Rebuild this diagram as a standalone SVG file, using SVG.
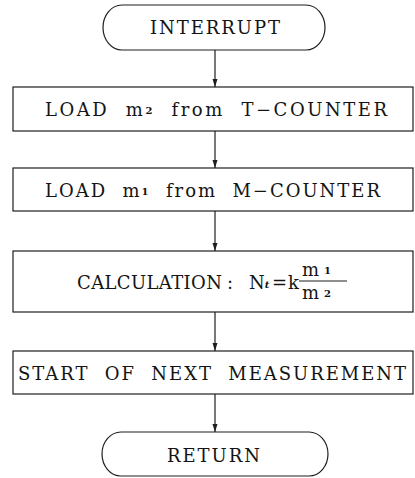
<svg xmlns="http://www.w3.org/2000/svg" width="415" height="478" viewBox="0 0 415 478">
  <style>
    .shape { fill: #ffffff; stroke: #1e1e1e; stroke-width: 1.2; }
    .label { font-family: "DejaVu Serif", "Liberation Serif", serif; font-size: 18px; fill: #141414; }
    .sub { font-size: 10px; font-weight: bold; }
    .wire { fill: none; stroke: #1e1e1e; stroke-width: 1.2; marker-end: url(#head); }
  </style>
  <defs>
    <marker id="head" markerUnits="userSpaceOnUse" markerWidth="9" markerHeight="6" refX="8" refY="3" orient="auto">
      <path d="M0,0.5 L8,3 L0,5.5 Z" fill="#1e1e1e"/>
    </marker>
  </defs>

  <rect width="415" height="478" fill="#ffffff"/>

  <!-- connectors along the centre line -->
  <g id="connectors">
    <line class="wire" x1="215" y1="50" x2="215" y2="87"/>
    <line class="wire" x1="215" y1="131" x2="215" y2="168"/>
    <line class="wire" x1="215" y1="211" x2="215" y2="251"/>
    <line class="wire" x1="215" y1="312" x2="215" y2="351"/>
    <line class="wire" x1="215" y1="394" x2="215" y2="432"/>
  </g>

  <g id="interrupt">
    <path class="shape" d="M122,5 H306 A19,22.5 0 0 1 306,50 H122 A19,22.5 0 0 1 122,5 Z"/>
    <text class="label" x="150" y="34" textLength="130" lengthAdjust="spacing">INTERRUPT</text>
  </g>

  <g id="load-m2">
    <rect class="shape" x="13" y="87" width="400" height="44"/>
    <text class="label" x="45" y="116" textLength="342" lengthAdjust="spacing" xml:space="preserve">LOAD  m<tspan class="sub" dy="-2">2</tspan><tspan dy="2">  from  T−COUNTER</tspan></text>
  </g>

  <g id="load-m1">
    <rect class="shape" x="13" y="168" width="400" height="43"/>
    <text class="label" x="45" y="197" textLength="335" lengthAdjust="spacing" xml:space="preserve">LOAD  m<tspan class="sub" dy="-2">1</tspan><tspan dy="2">  from  M−COUNTER</tspan></text>
  </g>

  <g id="calculation">
    <rect class="shape" x="13" y="251" width="400" height="61"/>
    <text class="label" x="77" y="289" textLength="145" lengthAdjust="spacing">CALCULATION</text>
    <text class="label" x="227" y="289">:</text>
    <text class="label" x="249" y="289">N<tspan class="sub" font-style="italic" dy="-1">t</tspan></text>
    <text class="label" x="272" y="289">=</text>
    <text class="label" x="288" y="289">k</text>
    <line x1="299" y1="281" x2="347" y2="281" stroke="#1e1e1e" stroke-width="1.2"/>
    <text class="label" x="302" y="276">m<tspan class="sub" dx="5" dy="-2">1</tspan></text>
    <text class="label" x="302" y="299">m<tspan class="sub" dx="5" dy="-2">2</tspan></text>
  </g>

  <g id="next-measurement">
    <rect class="shape" x="13" y="351" width="400" height="43"/>
    <text class="label" x="18" y="380" textLength="388" lengthAdjust="spacing" xml:space="preserve">START  OF  NEXT  MEASUREMENT</text>
  </g>

  <g id="return">
    <path class="shape" d="M121,432 H309 A19,22 0 0 1 309,476 H121 A19,22 0 0 1 121,432 Z"/>
    <text class="label" x="167" y="462" textLength="93" lengthAdjust="spacing">RETURN</text>
  </g>
</svg>
